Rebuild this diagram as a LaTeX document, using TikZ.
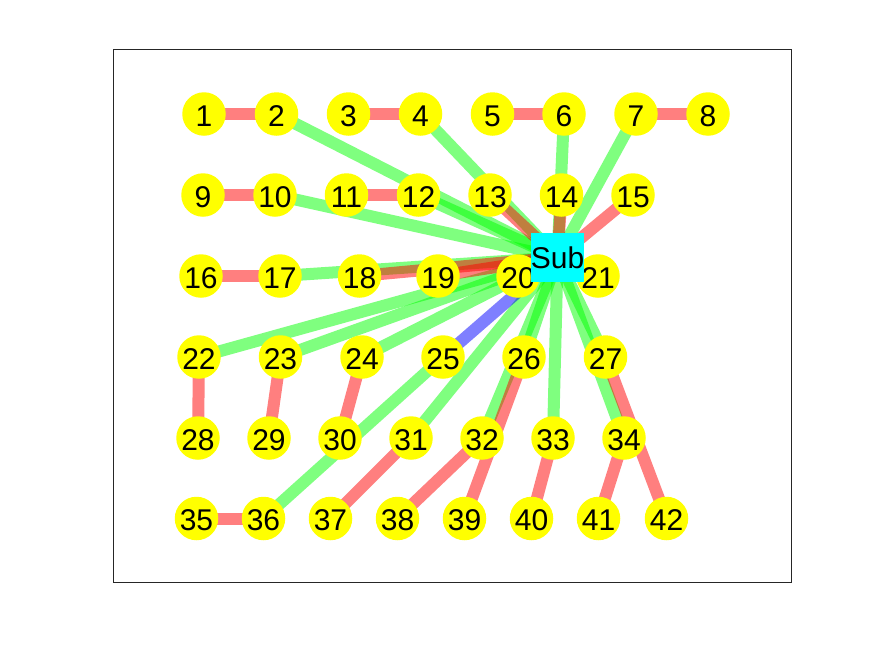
\documentclass[tikz,border=0pt]{standalone}
\usepackage{fontspec}
\setmainfont{Liberation Sans}
\usetikzlibrary{backgrounds}
\definecolor{busfill}{RGB}{255,255,0}
\definecolor{subfill}{RGB}{0,255,255}
\definecolor{axiscol}{RGB}{38,38,38}
\definecolor{gline}{RGB}{0,255,0}
\definecolor{rline}{RGB}{255,0,0}
\definecolor{bline}{RGB}{0,0,255}
\begin{document}
\begin{tikzpicture}[x=1pt,y=-1pt,
  bus/.style={circle,fill=busfill,minimum size=43.5pt,inner sep=0pt,
    font=\fontsize{30}{30}\selectfont,text=black,text height=24.5pt,text depth=0pt},
  subst/.style={rectangle,fill=subfill,minimum size=49pt,inner sep=0pt,
    font=\fontsize{30}{30}\selectfont,text=black},
  gedge/.style={draw=gline,line width=12pt,draw opacity=0.5},
  redge/.style={draw=rline,line width=12pt,draw opacity=0.5},
  bedge/.style={draw=bline,line width=12pt,draw opacity=0.5}]
\useasboundingbox (0,0) rectangle (875,656);
\draw[axiscol,line width=1pt] (113.5,49.5) rectangle (791,582);
% row 1
\node[bus] (n1) at (204,114) {1};
\node[bus] (n2) at (276.5,114) {2};
\node[bus] (n3) at (348.5,114) {3};
\node[bus] (n4) at (420.5,114) {4};
\node[bus] (n5) at (492.5,114) {5};
\node[bus] (n6) at (564,114) {6};
\node[bus] (n7) at (636,114) {7};
\node[bus] (n8) at (708,114) {8};
% row 2
\node[bus] (n9) at (203,195) {9};
\node[bus] (n10) at (275,195) {10};
\node[bus] (n11) at (346.5,195) {11};
\node[bus] (n12) at (418.5,195) {12};
\node[bus] (n13) at (490,195) {13};
\node[bus] (n14) at (561.5,195) {14};
\node[bus] (n15) at (633,195) {15};
% row 3
\node[bus] (n16) at (201,276) {16};
\node[bus] (n17) at (280,276) {17};
\node[bus] (n18) at (359.5,276) {18};
\node[bus] (n19) at (438,276) {19};
\node[bus] (n20) at (518,276) {20};
\node[bus] (n21) at (598,276) {21};
% row 4
\node[bus] (n22) at (199,357) {22};
\node[bus] (n23) at (280.5,357) {23};
\node[bus] (n24) at (362,357) {24};
\node[bus] (n25) at (443,357) {25};
\node[bus] (n26) at (524,357) {26};
\node[bus] (n27) at (605.5,357) {27};
% row 5
\node[bus] (n28) at (198,438) {28};
\node[bus] (n29) at (269,438) {29};
\node[bus] (n30) at (340,438) {30};
\node[bus] (n31) at (411,438) {31};
\node[bus] (n32) at (482,438) {32};
\node[bus] (n33) at (553,438) {33};
\node[bus] (n34) at (624,438) {34};
% row 6
\node[bus] (n35) at (196.5,518.5) {35};
\node[bus] (n36) at (263.5,518.5) {36};
\node[bus] (n37) at (330.5,518.5) {37};
\node[bus] (n38) at (397.5,518.5) {38};
\node[bus] (n39) at (464.5,518.5) {39};
\node[bus] (n40) at (531.5,518.5) {40};
\node[bus] (n41) at (598.5,518.5) {41};
\node[bus] (n42) at (666.5,518.5) {42};
% substation
\node[subst] (sub) at (557.5,257.5) {Sub};
\begin{scope}[on background layer]
% green edges
\foreach \k in {2,4,6,7,10,12,17,22,23,24,26,27,31,32,33,34}
  \path[gedge] (n\k.center) -- (sub.center);
\path[gedge] (n36.center) -- (n25.center);
% red edges
\foreach \a/\b in {1/2,3/4,5/6,7/8,9/10,11/12,16/17,22/28,23/29,24/30,35/36,31/37,32/38,26/39,33/40,34/41,27/42}
  \path[redge] (n\a.center) -- (n\b.center);
\foreach \k in {13,14,15,18,19}
  \path[redge] (n\k.center) -- (sub.center);
% blue edge
\path[bedge] (n25.center) -- (sub.center);
\end{scope}
\end{tikzpicture}
\end{document}
